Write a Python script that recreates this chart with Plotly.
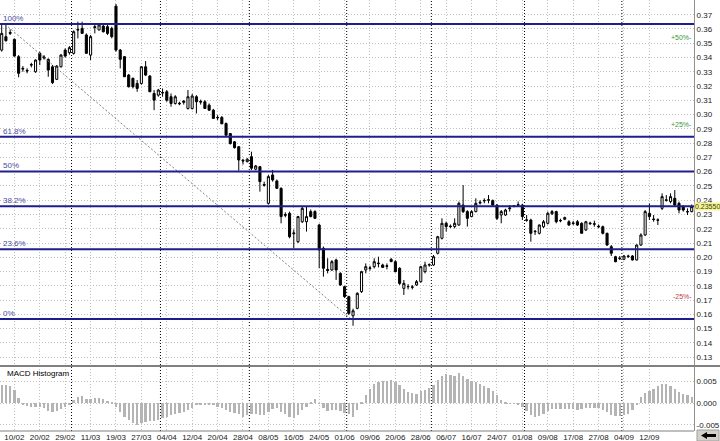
import plotly.graph_objects as go

# ---------------- data ----------------
opens = [0.3452,0.3546,0.3575,0.3527,0.3406,0.3324,0.3310,0.3347,0.3300,0.3429,
         0.3396,0.3387,0.3335,0.3247,0.3335,0.3452,0.3434,0.3429,0.3597,0.3604,
         0.3558,0.3417,0.3616,0.3593,0.3620,0.3616,0.3604,0.3760,0.3452,0.3406,
         0.3277,0.3254,0.3218,0.3218,0.3335,0.3270,0.3148,0.3136,0.3155,0.3160,
         0.3125,0.3078,0.3080,0.3085,0.3043,0.3043,0.3125,0.3092,0.3090,0.3066,
         0.3031,0.2980,0.2980,0.2937,0.2867,0.2809,0.2775,0.2680,0.2670,0.2705,
         0.2617,0.2635,0.2510,0.2378,0.2577,0.2535,0.2483,0.2300,0.2308,0.2165,
         0.2109,0.2249,0.2249,0.2320,0.2320,0.2226,0.2063,0.1915,0.1911,0.1981,
         0.1887,0.1794,0.1724,0.1590,0.1642,0.1759,0.1911,0.1922,0.1934,0.1955,
         0.1946,0.1940,0.1985,0.1969,0.1923,0.1782,0.1795,0.1790,0.1806,0.1829,
         0.1899,0.1946,0.1946,0.2028,0.2133,0.2238,0.2218,0.2215,0.2226,0.2366,
         0.2320,0.2285,0.2320,0.2380,0.2395,0.2400,0.2397,0.2366,0.2296,0.2296,
         0.2340,0.2358,0.2365,0.2366,0.2262,0.2261,0.2179,0.2168,0.2214,0.2238,
         0.2305,0.2320,0.2255,0.2266,0.2249,0.2240,0.2249,0.2238,0.2191,0.2240,
         0.2235,0.2218,0.2214,0.2168,0.2074,0.2004,0.1990,0.1986,0.2005,0.2009,
         0.1981,0.2086,0.2156,0.2308,0.2268,0.2262,0.2343,0.2398,0.2390,0.2413,
         0.2378,0.2355,0.2318,0.2320]
highs = [0.3628,0.3635,0.3597,0.3534,0.3417,0.3340,0.3324,0.3363,0.3387,0.3441,
         0.3417,0.3394,0.3347,0.3347,0.3425,0.3464,0.3480,0.3590,0.3651,0.3651,
         0.3569,0.3558,0.3633,0.3640,0.3630,0.3628,0.3616,0.3775,0.3460,0.3410,
         0.3285,0.3260,0.3242,0.3340,0.3375,0.3277,0.3172,0.3180,0.3183,0.3172,
         0.3148,0.3136,0.3090,0.3101,0.3172,0.3145,0.3136,0.3105,0.3101,0.3078,
         0.3040,0.2996,0.2990,0.2945,0.2870,0.2815,0.2780,0.2690,0.2695,0.2740,
         0.2647,0.2640,0.2530,0.2577,0.2612,0.2545,0.2490,0.2315,0.2320,0.2195,
         0.2290,0.2355,0.2355,0.2335,0.2330,0.2235,0.2075,0.1993,0.1980,0.1990,
         0.1895,0.1800,0.1730,0.1640,0.1755,0.1905,0.1957,0.1940,0.1993,0.2004,
         0.1955,0.1957,0.1995,0.1980,0.1930,0.1841,0.1812,0.1805,0.1841,0.1940,
         0.1969,0.1957,0.2016,0.2150,0.2273,0.2250,0.2230,0.2273,0.2390,0.2506,
         0.2330,0.2330,0.2413,0.2400,0.2413,0.2436,0.2405,0.2372,0.2331,0.2340,
         0.2366,0.2366,0.2390,0.2375,0.2296,0.2270,0.2191,0.2230,0.2261,0.2320,
         0.2331,0.2326,0.2270,0.2285,0.2260,0.2255,0.2261,0.2245,0.2255,0.2249,
         0.2257,0.2230,0.2222,0.2172,0.2086,0.2010,0.2009,0.2015,0.2018,0.2015,
         0.2090,0.2168,0.2331,0.2378,0.2296,0.2273,0.2448,0.2436,0.2448,0.2471,
         0.2390,0.2366,0.2343,0.2370]
lows = [0.3441,0.3511,0.3558,0.3406,0.3261,0.3300,0.3289,0.3331,0.3293,0.3347,
        0.3385,0.3265,0.3214,0.3242,0.3330,0.3400,0.3420,0.3420,0.3534,0.3569,
        0.3429,0.3382,0.3569,0.3590,0.3575,0.3558,0.3534,0.3441,0.3324,0.3265,
        0.3190,0.3183,0.3160,0.3210,0.3270,0.3160,0.3031,0.3125,0.3125,0.3090,
        0.3055,0.3070,0.3066,0.3070,0.3035,0.3035,0.3008,0.3070,0.3043,0.3025,
        0.2973,0.2961,0.2935,0.2855,0.2790,0.2762,0.2607,0.2650,0.2665,0.2612,
        0.2610,0.2460,0.2495,0.2370,0.2530,0.2483,0.2238,0.2280,0.2133,0.2063,
        0.2100,0.2240,0.2180,0.2280,0.2270,0.1923,0.1864,0.1887,0.1905,0.1841,
        0.1800,0.1715,0.1596,0.1520,0.1635,0.1750,0.1887,0.1906,0.1922,0.1929,
        0.1925,0.1915,0.1965,0.1895,0.1806,0.1736,0.1775,0.1775,0.1800,0.1822,
        0.1887,0.1934,0.1940,0.2020,0.2125,0.2180,0.2205,0.2203,0.2220,0.2310,
        0.2215,0.2280,0.2315,0.2370,0.2378,0.2378,0.2360,0.2261,0.2238,0.2290,
        0.2320,0.2350,0.2355,0.2261,0.2249,0.2109,0.2156,0.2160,0.2205,0.2230,
        0.2296,0.2238,0.2245,0.2260,0.2220,0.2225,0.2219,0.2168,0.2185,0.2226,
        0.2214,0.2205,0.2160,0.2080,0.2009,0.1965,0.1981,0.1980,0.1995,0.1978,
        0.1978,0.2080,0.2150,0.2261,0.2249,0.2226,0.2331,0.2390,0.2378,0.2355,
        0.2308,0.2320,0.2296,0.2315]
closes = [0.3569,0.3518,0.3570,0.3410,0.3289,0.3320,0.3306,0.3350,0.3382,0.3382,
          0.3403,0.3312,0.3224,0.3340,0.3417,0.3410,0.3469,0.3581,0.3593,0.3569,
          0.3429,0.3546,0.3610,0.3628,0.3581,0.3569,0.3546,0.3452,0.3387,0.3265,
          0.3195,0.3195,0.3183,0.3335,0.3277,0.3160,0.3101,0.3172,0.3152,0.3101,
          0.3078,0.3125,0.3076,0.3095,0.3125,0.3130,0.3090,0.3088,0.3043,0.3031,
          0.2973,0.2978,0.2935,0.2855,0.2797,0.2768,0.2682,0.2675,0.2687,0.2624,
          0.2640,0.2530,0.2505,0.2565,0.2542,0.2483,0.2285,0.2295,0.2144,0.2170,
          0.2285,0.2343,0.2285,0.2285,0.2273,0.2051,0.1923,0.1908,0.1969,0.1911,
          0.1806,0.1724,0.1607,0.1625,0.1747,0.1899,0.1934,0.1925,0.1969,0.1958,
          0.1929,0.1937,0.1970,0.1899,0.1817,0.1817,0.1794,0.1792,0.1829,0.1934,
          0.1946,0.1948,0.2004,0.2144,0.2238,0.2215,0.2215,0.2238,0.2378,0.2320,
          0.2273,0.2320,0.2378,0.2385,0.2398,0.2403,0.2366,0.2273,0.2320,0.2331,
          0.2345,0.2360,0.2368,0.2285,0.2260,0.2168,0.2182,0.2226,0.2249,0.2308,
          0.2320,0.2249,0.2258,0.2278,0.2226,0.2238,0.2226,0.2168,0.2249,0.2236,
          0.2232,0.2214,0.2168,0.2086,0.2028,0.1969,0.1993,0.2009,0.2008,0.1981,
          0.2086,0.2156,0.2320,0.2285,0.2265,0.2260,0.2425,0.2402,0.2425,0.2366,
          0.2331,0.2331,0.2320,0.2355]
macd_hist = [0.0043,0.0042,0.0041,0.0031,0.0012,-0.0003,-0.0006,-0.0008,-0.0008,-0.0008,
             -0.0012,-0.0017,-0.0020,-0.0018,-0.0013,-0.0008,-0.0002,0.0008,0.0015,0.0017,
             0.0009,0.0011,0.0013,0.0013,0.0010,0.0005,0.0001,-0.0008,-0.0019,-0.0031,
             -0.0038,-0.0046,-0.0050,-0.0046,-0.0044,-0.0042,-0.0041,-0.0038,-0.0035,-0.0031,
             -0.0028,-0.0025,-0.0023,-0.0021,-0.0015,-0.0010,-0.0004,-0.0002,-0.0002,-0.0003,
             -0.0005,-0.0008,-0.0012,-0.0015,-0.0019,-0.0023,-0.0025,-0.0031,-0.0027,-0.0025,
             -0.0025,-0.0027,-0.0028,-0.0019,-0.0014,-0.0012,-0.0021,-0.0025,-0.0031,-0.0035,
             -0.0027,-0.0015,-0.0008,0.0002,0.0010,-0.0001,-0.0012,-0.0018,-0.0015,-0.0015,
             -0.0018,-0.0023,-0.0025,-0.0031,-0.0015,0.0001,0.0020,0.0032,0.0044,0.0050,
             0.0051,0.0052,0.0054,0.0050,0.0042,0.0034,0.0027,0.0023,0.0022,0.0028,
             0.0031,0.0036,0.0043,0.0054,0.0062,0.0067,0.0065,0.0064,0.0069,0.0064,
             0.0056,0.0051,0.0048,0.0044,0.0039,0.0035,0.0029,0.0020,0.0008,0.0002,
             -0.0001,-0.0001,-0.0003,-0.0008,-0.0017,-0.0026,-0.0031,-0.0029,-0.0024,-0.0018,
             -0.0014,-0.0013,-0.0013,-0.0014,-0.0014,-0.0014,-0.0015,-0.0014,-0.0012,-0.0010,
             -0.0010,-0.0012,-0.0016,-0.0021,-0.0026,-0.0030,-0.0029,-0.0027,-0.0024,-0.0016,
             -0.0003,0.0014,0.0024,0.0028,0.0034,0.0040,0.0044,0.0044,0.0041,0.0034,
             0.0026,0.0021,0.0018,0.0015]

tick_labels = ["10/02","20/02","29/02","11/03","19/03","27/03","04/04","12/04","20/04","28/04",
               "08/05","16/05","24/05","01/06","09/06","20/06","28/06","06/07","16/07","24/07",
               "01/08","09/08","17/08","27/08","04/09","12/09"]
tick_bars = [3 + 6 * k for k in range(len(tick_labels))]
month_breaks = [16.5, 37.5, 58.5, 81.5, 101.5, 123.5, 146.5]

fib_high = 0.3635
fib_low = 0.1568
fib_ratios = [1.0, 0.618, 0.5, 0.382, 0.236, 0.0]
fib_names = ["100%", "61.8%", "50%", "38.2%", "23.6%", "0%"]
trend_start = (1.5, 0.3615)
trend_end = (82.5, 0.1568)

pct_marks = [("+50%", 0.3537, "#3c963c"), ("+25%", 0.2934, "#3c963c"), ("-25%", 0.1724, "#c04040")]
last_price = 0.2355
last_price_text = "0.23550"

idx = list(range(len(opens)))

# ---------------- geometry ----------------
W, H = 720, 441
plot_right = 694 / W
main_bottom = 1 - 366 / H
macd_bottom = 1 - 431 / H
font_family = "Liberation Sans, Arial, sans-serif"

fig = go.Figure()
fig.add_trace(go.Candlestick(
    x=idx, open=opens, high=highs, low=lows, close=closes,
    increasing=dict(line=dict(color="black", width=1), fillcolor="white"),
    decreasing=dict(line=dict(color="black", width=1), fillcolor="black"),
    whiskerwidth=0, xaxis="x", yaxis="y", showlegend=False, hoverinfo="skip"))

fig.add_trace(go.Bar(x=idx, y=macd_hist, marker=dict(color="#b4b4b4", line=dict(width=0)),
                     width=0.55, xaxis="x2", yaxis="y2", showlegend=False, hoverinfo="skip"))

# dashed trend line between fib anchors
fig.add_trace(go.Scatter(x=[trend_start[0], trend_end[0]], y=[trend_start[1], trend_end[1]],
                         mode="lines", line=dict(color="#808080", width=1, dash="2px,2px"),
                         xaxis="x", yaxis="y", showlegend=False, hoverinfo="skip"))

shapes = []
annotations = []
rng = fib_high - fib_low
for r, name in zip(fib_ratios, fib_names):
    lvl = fib_low + r * rng
    shapes.append(dict(type="line", xref="paper", x0=0, x1=plot_right, yref="y", y0=lvl, y1=lvl,
                       line=dict(color="#1e1e8c", width=2), layer="above"))
    annotations.append(dict(x=0.002, xref="paper", y=lvl, yref="y", text=name, showarrow=False,
                            xanchor="left", yanchor="bottom", yshift=-1,
                            font=dict(family=font_family, size=8, color="#4a4aa0")))

for mb in month_breaks:
    shapes.append(dict(type="line", xref="x", x0=mb, x1=mb, yref="paper", y0=macd_bottom, y1=1,
                       line=dict(color="#000000", width=1, dash="1px,2px"), layer="below"))

# panel separator
shapes.append(dict(type="line", xref="paper", x0=0, x1=1, yref="paper", y0=main_bottom, y1=main_bottom,
                   line=dict(color="#808080", width=2)))
shapes.append(dict(type="line", xref="paper", x0=0, x1=plot_right, yref="paper", y0=macd_bottom, y1=macd_bottom,
                   line=dict(color="#808080", width=1)))

for txt, lvl, col in pct_marks:
    annotations.append(dict(x=plot_right, xref="paper", y=lvl, yref="y", text=txt + "-", showarrow=False,
                            xanchor="right", yanchor="middle",
                            font=dict(family=font_family, size=7, color=col)))

annotations.append(dict(x=plot_right + 0.0005, xref="paper", y=last_price, yref="y", text=last_price_text,
                        showarrow=False, xanchor="left", yanchor="middle", bgcolor="#f4f49a",
                        borderpad=0, font=dict(family=font_family, size=7, color="#404000")))

annotations.append(dict(x=5 / W, xref="paper", y=1 - 373 / H, yref="paper", text="MACD Histogram",
                        showarrow=False, xanchor="left", yanchor="middle",
                        font=dict(family=font_family, size=8, color="black")))

# arrow button bottom right
shapes.append(dict(type="rect", xref="paper", yref="paper", x0=697 / W, x1=719 / W, y0=0, y1=1 - 430 / H,
                   fillcolor="#d4d0c8", line=dict(color="#a0a0a0", width=1)))
shapes.append(dict(type="path", xref="paper", yref="paper",
                   path=f"M {701/W},{1-435.5/H} L {707/W},{1-432/H} L {707/W},{1-434/H} L {716/W},{1-434/H} "
                        f"L {716/W},{1-437/H} L {707/W},{1-437/H} L {707/W},{1-439/H} Z",
                   fillcolor="black", line=dict(color="black", width=0)))

grid = dict(showgrid=True, gridcolor="#c0c0c0", griddash="1px,2px", gridwidth=1, automargin=False)
x_range = [-0.4, 163.54]

fig.update_layout(
    width=W, height=H, autosize=False,
    margin=dict(l=0, r=0, t=0, b=0, pad=0),
    paper_bgcolor="white", plot_bgcolor="white",
    font=dict(family=font_family, size=8, color="#202020"),
    showlegend=False,
    bargap=0,
    xaxis=dict(domain=[0, plot_right], range=x_range, anchor="y", tickvals=tick_bars,
               showticklabels=False, ticks="", ticklen=0, zeroline=False, rangeslider=dict(visible=False),
               fixedrange=True, **grid),
    yaxis=dict(domain=[main_bottom, 1], range=[0.1238, 0.3803], side="right", anchor="x",
               dtick=0.01, tick0=0.13, tickformat=".2f", ticks="", ticklen=0, zeroline=False,
               showline=True, linecolor="#909090", linewidth=1, mirror=False, fixedrange=True,
               tickfont=dict(size=8, color="#202020"), **grid),
    xaxis2=dict(domain=[0, plot_right], range=x_range, anchor="y2", tickvals=tick_bars,
                ticktext=tick_labels, ticks="", ticklen=0, zeroline=False, fixedrange=True,
                tickfont=dict(size=8, color="#202020"), **grid),
    yaxis2=dict(domain=[macd_bottom, main_bottom], range=[-0.0064, 0.0086], side="right", anchor="x2",
                tickvals=[-0.005, 0.0, 0.005], ticktext=["-0.005", "0.000", "0.005"], ticks="", ticklen=0,
                zeroline=False, showline=True, linecolor="#909090", linewidth=1, fixedrange=True,
                tickfont=dict(size=8, color="#202020"), **grid),
    shapes=shapes,
    annotations=annotations,
)

fig.write_html("out.html", config={"displayModeBar": False},
               post_script="document.body.style.margin='0px';document.body.style.overflow='hidden';")
